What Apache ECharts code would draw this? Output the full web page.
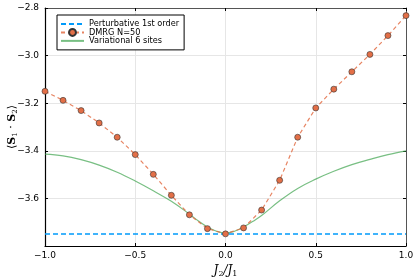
<!DOCTYPE html>
<html><head><meta charset="utf-8">
<script src="https://cdn.jsdelivr.net/npm/echarts@6/dist/echarts.min.js"></script>
<style>html,body{margin:0;padding:0;background:#fff}#c{width:415px;height:277px}</style>
</head><body><div id="c"></div>
<script>
const xTicks = [-1.0, -0.5, 0.0, 0.5, 1.0];
const yTicks = [-3.6, -3.4, -3.2, -3.0, -2.8];
const dmrgX = [-1.0,-0.9,-0.8,-0.7,-0.6,-0.5,-0.4,-0.3,-0.2,-0.1,0.0,0.1,0.2,0.3,0.4,0.5,0.6,0.7,0.8,0.9,1.0];
const dmrgY = [-3.150,-3.188,-3.231,-3.283,-3.343,-3.416,-3.499,-3.587,-3.669,-3.727,-3.749,-3.724,-3.649,-3.524,-3.343,-3.220,-3.141,-3.068,-2.995,-2.916,-2.832];
const varX = [-1.0,-0.9,-0.8,-0.7,-0.6,-0.5,-0.4,-0.3,-0.2,-0.15,-0.1,-0.05,0.0,0.05,0.1,0.15,0.2,0.3,0.4,0.5,0.6,0.7,0.8,0.9,1.0];
const varY = [-3.414,-3.421,-3.437,-3.460,-3.490,-3.527,-3.568,-3.612,-3.666,-3.695,-3.720,-3.738,-3.746,-3.738,-3.720,-3.697,-3.672,-3.610,-3.558,-3.519,-3.486,-3.458,-3.436,-3.416,-3.400];
const pertX = [-1.0, 1.0];
const pertY = [-3.75, -3.75];

const fmt = v => {
  if (Math.abs(v + 3.8) < 1e-6) return '';
  return v.toFixed(1).replace('-', '\u2212');
};
const chart = echarts.init(document.getElementById('c'), null, {renderer: 'canvas'});
const tickFont = {fontFamily: 'DejaVu Sans', fontSize: 9, color: '#000'};
chart.setOption({
  animation: false,
  grid: {left: 45, right: 9, top: 8, bottom: 31, containLabel: false, outerBoundsMode: 'none'},
  graphic: [{
    type: 'text', x: 12, y: 127, rotation: Math.PI / 2,
    style: {
      text: '\u27e8{b|S}{s|1}{n| \u00b7 }{b|S}{s|2}\u27e9',
      align: 'center', verticalAlign: 'middle',
      fontFamily: 'DejaVu Serif', fontSize: 11, fill: '#000',
      rich: {
        b: {fontFamily: 'DejaVu Serif', fontWeight: 'bold', fontSize: 11, fill: '#000'},
        n: {fontFamily: 'DejaVu Serif', fontSize: 11, fill: '#000'},
        s: {fontFamily: 'DejaVu Serif', fontSize: 7, fill: '#000', verticalAlign: 'bottom', padding: [6,0,0,0]}
      }
    }
  }],
  xAxis: [{
    type: 'value', min: -1, max: 1, interval: 0.5,
    axisLine: {show: true, onZero: false, lineStyle: {color: '#000', width: 1.2}},
    axisTick: {show: true, inside: true, length: 3, lineStyle: {color: '#000'}},
    axisLabel: Object.assign({formatter: fmt, margin: 5}, tickFont),
    splitLine: {show: true, lineStyle: {color: '#e6e6e6', width: 1}},
    name: '{i|J}{s|2}{i|/J}{s|1}', nameLocation: 'middle', nameGap: 15,
    nameTextStyle: {rich: {
      i: {fontFamily: 'DejaVu Serif', fontStyle: 'italic', fontSize: 12, color: '#000'},
      s: {fontFamily: 'DejaVu Serif', fontSize: 8, color: '#000', verticalAlign: 'bottom', padding: [7,0,0,0]}
    }}
  }, {
    type: 'value', min: -1, max: 1, interval: 0.5, position: 'top',
    axisLine: {show: true, onZero: false, lineStyle: {color: '#555', width: 1}},
    axisTick: {show: true, inside: true, length: 3, lineStyle: {color: '#000'}},
    axisLabel: {show: false}, splitLine: {show: false}
  }],
  yAxis: [{
    type: 'value', min: -3.8, max: -2.8, interval: 0.2,
    axisLine: {show: true, onZero: false, lineStyle: {color: '#000', width: 1.2}},
    axisTick: {show: true, inside: true, length: 3, lineStyle: {color: '#000'}},
    axisLabel: Object.assign({formatter: fmt, margin: 6}, tickFont),
    splitLine: {show: true, lineStyle: {color: '#e6e6e6', width: 1}}
  }, {
    type: 'value', min: -3.8, max: -2.8, interval: 0.2, position: 'right',
    axisLine: {show: true, onZero: false, lineStyle: {color: '#555', width: 1}},
    axisTick: {show: true, inside: true, length: 3, lineStyle: {color: '#000'}},
    axisLabel: {show: false}, splitLine: {show: false}
  }],
  legend: {
    left: 57, top: 15, orient: 'vertical', itemGap: 0, itemWidth: 23, itemHeight: 8.6,
    padding: [5, 5, 5, 3],
    borderColor: '#000', borderWidth: 1, backgroundColor: '#fff', borderRadius: 0,
    textStyle: {fontFamily: 'DejaVu Sans', fontSize: 8.2, color: '#000'},
    data: [
      {name: 'Perturbative 1st order', itemStyle: {opacity: 0}},
      {name: 'DMRG N=50'},
      {name: 'Variational 6 sites', itemStyle: {opacity: 0}}
    ]
  },
  series: [
    {name: 'Perturbative 1st order', type: 'line', data: pertX.map((x, i) => [x, pertY[i]]),
     showSymbol: false, symbol: 'none', lineStyle: {color: '#009AFA', width: 1.5, type: [5, 3]}, itemStyle: {color: '#009AFA'}, z: 2},
    {name: 'Variational 6 sites', type: 'line', data: varX.map((x, i) => [x, varY[i]]), smooth: 0.4,
     symbol: 'none', lineStyle: {color: '#3EA44E', width: 1.2, opacity: 0.7}, itemStyle: {color: '#7ec486'}, z: 3},
    {name: 'DMRG N=50', type: 'line', data: dmrgX.map((x, i) => [x, dmrgY[i]]),
     symbol: 'circle', symbolSize: 6, showSymbol: true,
     lineStyle: {color: '#E36F47', width: 1.2, type: [4, 3], opacity: 0.85},
     itemStyle: {color: '#E36F47', borderColor: '#333', borderWidth: 0.6}, z: 4}
  ]
});
</script></body></html>
